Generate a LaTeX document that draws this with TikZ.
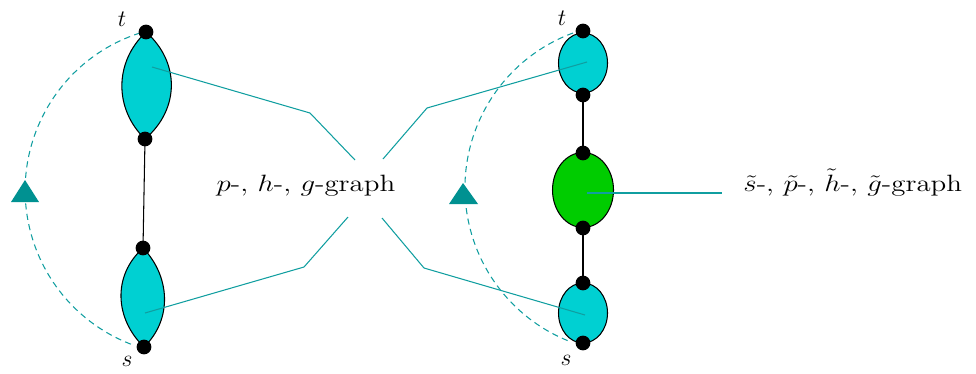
\documentclass[tikz,border=0pt]{standalone}
\usetikzlibrary{shapes.geometric}
\definecolor{lenscyan}{RGB}{0,208,210}
\definecolor{blobgreen}{RGB}{0,204,0}
\definecolor{linkteal}{RGB}{16,158,160}
\definecolor{marker}{RGB}{0,145,145}
\tikzset{
  lens/.style={draw=black,line width=0.6pt},
  link/.style={linkteal,line width=0.6pt},
  arcdash/.style={linkteal,line width=0.6pt,dash pattern=on 3.5pt off 2.5pt},
  blob/.style={ellipse,draw=black,line width=0.6pt,inner sep=0pt},
  graphlabel/.style={font=\large,xscale=1.37,yscale=1.12,inner sep=0pt},
  endlabel/.style={font=\large,scale=1.12}
}
\begin{document}
\begin{tikzpicture}[x=0.02cm,y=-0.02cm]
  \useasboundingbox (0,0) rectangle (976,373);
  % left chain
  \coordinate (t1) at (146,32);
  \coordinate (a1) at (145,139);
  \coordinate (b1) at (143,248);
  \coordinate (s1) at (144,347);
  \draw[arcdash] (140,33) arc[start angle=252.3, end angle=110, radius=165];
  \fill[marker] (25,180) -- (39,202) -- (11,202) -- cycle;
  \filldraw[lens,fill=lenscyan] (t1) .. controls (114,62) and (114,109) .. (a1)
                                     .. controls (180,109) and (180,62) .. (t1);
  \filldraw[lens,fill=lenscyan] (b1) .. controls (112,276) and (115,319) .. (s1)
                                     .. controls (173,319) and (170,276) .. (b1);
  \draw[line width=0.6pt] (a1) -- (b1);
  \foreach \p in {t1,a1,b1,s1} \fill (\p) circle (4.2pt);
  \node[endlabel] (tl) at (122,19) {$t$};
  \node[endlabel] (sl) at (127,361) {$s$};
  % right chain
  \coordinate (t2) at (583,31);
  \coordinate (a2) at (583,95);
  \coordinate (b2) at (583,153);
  \coordinate (c2) at (583,228);
  \coordinate (d2) at (583,283);
  \coordinate (s2) at (583,343);
  \draw[arcdash] (573,33) arc[start angle=249.8, end angle=112.2, radius=165];
  \fill[marker] (463,183) -- (478,204) -- (449,204) -- cycle;
  \node[blob,fill=lenscyan,minimum width=0.98cm,minimum height=1.2cm] (top) at (583,63) {};
  \node[blob,fill=blobgreen,minimum width=1.22cm,minimum height=1.5cm] (mid) at (583,190) {};
  \node[blob,fill=lenscyan,minimum width=0.98cm,minimum height=1.2cm] (bot) at (583,313) {};
  \draw[line width=0.6pt] (a2) -- (b2);
  \draw[line width=0.6pt] (c2) -- (d2);
  \foreach \p in {t2,a2,b2,c2,d2,s2} \fill (\p) circle (4.2pt);
  \node[endlabel] (tr) at (562,18) {$t$};
  \node[endlabel] (sr) at (566,360) {$s$};
  % labels and links
  \node[graphlabel,anchor=base] (phg) at (306,191) {$p$-, $h$-, $g$-graph};
  \node[graphlabel,anchor=base west] (sphg) at (743,191) {$\tilde{s}$-, $\tilde{p}$-, $\tilde{h}$-, $\tilde{g}$-graph};
  \coordinate (k1) at (355,160);
  \coordinate (k2) at (348,217);
  \coordinate (k3) at (383,159);
  \coordinate (k4) at (382,218);
  \coordinate (k5) at (722,193);
  \draw[link] (152,67) -- (310,113) -- (k1);
  \draw[link] (145,313) -- (304,267) -- (k2);
  \draw[link] ([xshift=4*0.02cm,yshift=1*0.02cm]top.center) -- (427,108) -- (k3);
  \draw[link] ([xshift=2*0.02cm,yshift=-2*0.02cm]bot.center) -- (424,268) -- (k4);
  \draw[link] ([xshift=4*0.02cm,yshift=-3*0.02cm]mid.center) -- (k5);
\end{tikzpicture}
\end{document}
